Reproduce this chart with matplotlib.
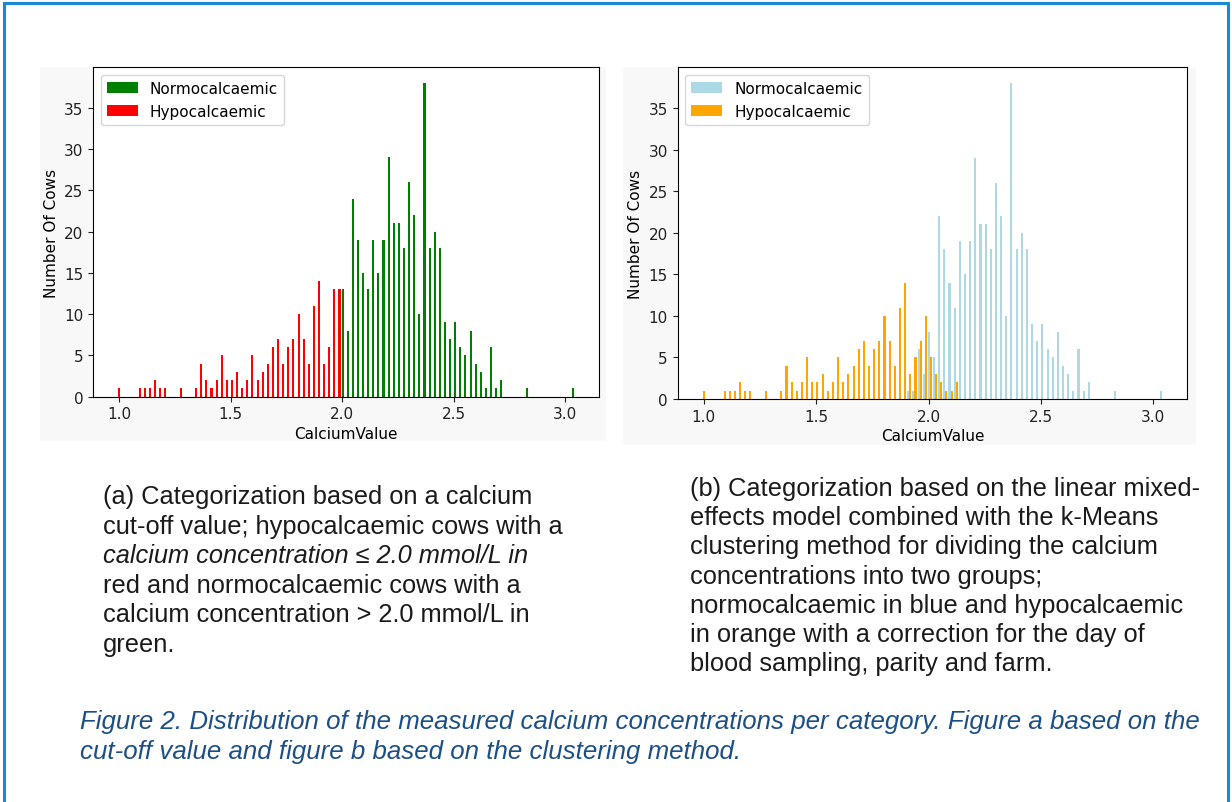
import numpy as np
import matplotlib
matplotlib.use("Agg")
import matplotlib.pyplot as plt
from matplotlib.patches import Rectangle

W, H = 1232, 803

# histogram bins shared by both panels (90 bins over the measured range)
edges = np.linspace(0.985, 3.05, 91)
mids = (edges[:-1] + edges[1:]) / 2

# (a) cut-off at 2.0 mmol/L: cows per bin
hypo_a = [1, 0, 0, 0, 1, 1, 1, 2, 1, 1,
          0, 0, 1, 0, 0, 1, 4, 2, 1, 2,
          5, 2, 2, 3, 1, 2, 5, 2, 3, 4,
          6, 7, 4, 6, 7, 10, 7, 4, 11, 14,
          4, 6, 13, 13, 0, 0, 0, 0, 0, 0,
          0, 0, 0, 0, 0, 0, 0, 0, 0, 0,
          0, 0, 0, 0, 0, 0, 0, 0, 0, 0,
          0, 0, 0, 0, 0, 0, 0, 0, 0, 0,
          0, 0, 0, 0, 0, 0, 0, 0, 0, 0]
normo_a = [0, 0, 0, 0, 0, 0, 0, 0, 0, 0,
           0, 0, 0, 0, 0, 0, 0, 0, 0, 0,
           0, 0, 0, 0, 0, 0, 0, 0, 0, 0,
           0, 0, 0, 0, 0, 0, 0, 0, 0, 0,
           0, 0, 0, 0, 13, 8, 24, 19, 15, 13,
           19, 15, 19, 29, 21, 21, 18, 26, 22, 10,
           38, 18, 20, 18, 9, 7, 9, 6, 5, 8,
           4, 3, 1, 6, 1, 2, 0, 0, 0, 0,
           1, 0, 0, 0, 0, 0, 0, 0, 0, 1]

# (b) mixed model + k-means clusters: cows per bin
hypo_b = [1, 0, 0, 0, 1, 1, 1, 2, 1, 1,
          0, 0, 1, 0, 0, 1, 4, 2, 1, 2,
          5, 2, 2, 3, 1, 2, 5, 2, 3, 4,
          6, 7, 4, 6, 7, 10, 7, 4, 11, 14,
          3, 5, 7, 10, 5, 3, 2, 1, 1, 2,
          0, 0, 0, 0, 0, 0, 0, 0, 0, 0,
          0, 0, 0, 0, 0, 0, 0, 0, 0, 0,
          0, 0, 0, 0, 0, 0, 0, 0, 0, 0,
          0, 0, 0, 0, 0, 0, 0, 0, 0, 0]
normo_b = [0, 0, 0, 0, 0, 0, 0, 0, 0, 0,
           0, 0, 0, 0, 0, 0, 0, 0, 0, 0,
           0, 0, 0, 0, 0, 0, 0, 0, 0, 0,
           0, 0, 0, 0, 0, 0, 0, 0, 0, 0,
           1, 1, 6, 3, 8, 5, 22, 18, 14, 11,
           19, 15, 19, 29, 21, 21, 18, 26, 22, 10,
           38, 18, 20, 18, 9, 7, 9, 6, 5, 8,
           4, 3, 1, 6, 1, 2, 0, 0, 0, 0,
           1, 0, 0, 0, 0, 0, 0, 0, 0, 1]

labels = ["Normocalcaemic", "Hypocalcaemic"]

caption_a = ["(a) Categorization based on a calcium",
             "cut-off value; hypocalcaemic cows with a",
             "calcium concentration \u2264 2.0 mmol/L in",
             "red and normocalcaemic cows with a",
             "calcium concentration > 2.0 mmol/L in",
             "green."]
caption_b = ["(b) Categorization based on the linear mixed-",
             "effects model combined with the k-Means",
             "clustering method for dividing the calcium",
             "concentrations into two groups;",
             "normocalcaemic in blue and hypocalcaemic",
             "in orange with a correction for the day of",
             "blood sampling, parity and farm."]
fig_caption = ["Figure 2. Distribution of the measured calcium concentrations per category. Figure a based on the",
               "cut-off value and figure b based on the clustering method."]


def fx(px):
    return px / W


def fy(py):
    return 1 - py / H


fig = plt.figure(figsize=(W / 100, H / 100), dpi=100)
fig.patch.set_facecolor("white")

# light grey backing of the two plot images
fig.add_artist(Rectangle((fx(40), fy(442)), fx(606) - fx(40), fy(68) - fy(442),
                         transform=fig.transFigure, facecolor="#f8f8f8", edgecolor="none", zorder=0))
fig.add_artist(Rectangle((fx(623), fy(446)), fx(1196) - fx(623), fy(68) - fy(446),
                         transform=fig.transFigure, facecolor="#f8f8f8", edgecolor="none", zorder=0))

# outer blue frame, running on past the bottom edge
fig.add_artist(Rectangle((fx(4), fy(815)), fx(1228) - fx(4), fy(4) - fy(815),
                         transform=fig.transFigure, facecolor="none", edgecolor="#1b8ad3",
                         linewidth=2.2, zorder=5, clip_on=False))

panels = [
    ([fx(93.3), fy(397.7), fx(599) - fx(93.3), fy(68.3) - fy(397.7)],
     normo_a, hypo_a, ["green", "red"]),
    ([fx(677.7), fy(400), fx(1187.3) - fx(677.7), fy(68.3) - fy(400)],
     normo_b, hypo_b, ["lightblue", "orange"]),
]

for rect, normo, hypo, colors in panels:
    ax = fig.add_axes(rect)
    ax.hist([mids, mids], bins=edges, weights=[normo, hypo], color=colors, label=labels)
    ax.set_xticks([1.0, 1.5, 2.0, 2.5, 3.0])
    ax.set_yticks(range(0, 40, 5))
    ax.tick_params(labelsize=11, colors="#222222")
    ax.set_xlabel("CalciumValue", fontsize=11, labelpad=3)
    ax.set_ylabel("Number Of Cows", fontsize=11)
    ax.legend(loc="upper left", fontsize=11)

body = dict(family=["Liberation Sans", "DejaVu Sans"], fontsize=18.3, color="#1a1a1a", va="center")

for i, line in enumerate(caption_a):
    style = "italic" if i == 2 else "normal"
    fig.text(fx(103), fy(497 + i * 29.6), line, style=style, **body)

for i, line in enumerate(caption_b):
    fig.text(fx(690), fy(489 + i * 29.2), line, **body)

for i, line in enumerate(fig_caption):
    fig.text(fx(80), fy(722 + i * 30), line, family=["Liberation Sans", "DejaVu Sans"],
             fontsize=18.6, style="italic", color="#1c4f86", va="center")

fig.savefig("out.png", dpi=100)
